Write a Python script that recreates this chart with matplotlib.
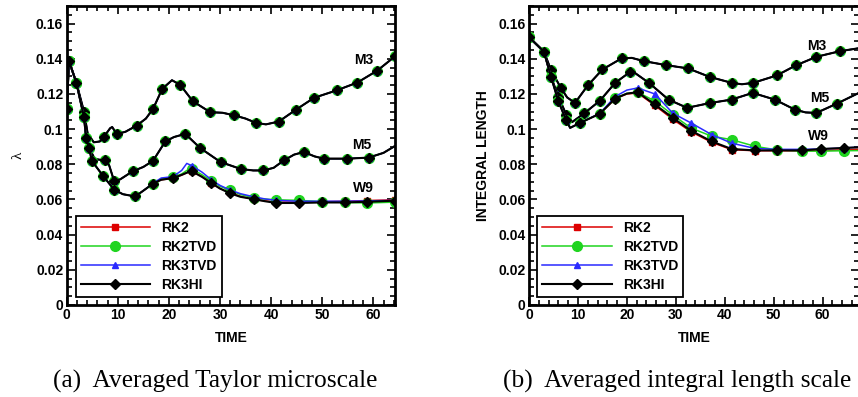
import matplotlib
matplotlib.use("Agg")
import matplotlib.pyplot as plt
from matplotlib.ticker import MultipleLocator, FuncFormatter

# ---------------- data: (a) averaged Taylor microscale ----------------
ta_m3 = [0, 0.45, 1.9, 3.4, 4.1, 5.3, 6.5, 7.3, 8.5, 8.9, 9.8, 11.5, 13.7, 15.5, 16.9, 18.7,
         20.6, 22.2, 24.7, 28.1, 30.5, 32.7, 35.0, 37.1, 39.0, 41.5, 44.9, 48.4, 52.9, 56.9, 60.8, 64.3]
lam_m3 = [0.1117, 0.1387, 0.1263, 0.1098, 0.0975, 0.0925, 0.0930, 0.0957, 0.1005, 0.1012, 0.0972,
          0.0985, 0.1020, 0.1060, 0.1115, 0.1229, 0.1278, 0.1252, 0.1158, 0.1096, 0.1093, 0.1079,
          0.1060, 0.1035, 0.1027, 0.1043, 0.1111, 0.1178, 0.1221, 0.1265, 0.1333, 0.1415]
ta_m3_marks = [0, 1, 2, 3, 7, 10, 12, 14, 15, 17, 18, 19, 21, 23, 25, 26, 27, 28, 29, 30, 31]

ta_m5 = [0, 0.45, 1.9, 3.4, 3.8, 4.4, 5.5, 7.4, 8.3, 9.3, 10.5, 12.9, 15.0, 16.9, 19.3, 21.0,
         23.2, 26.1, 30.1, 34.1, 36.5, 38.5, 40.5, 42.5, 44.5, 46.4, 48.5, 50.3, 54.9, 59.1, 62.0, 64.3]
lam_m5 = [0.1117, 0.1387, 0.1263, 0.1067, 0.0950, 0.0893, 0.0830, 0.0822, 0.0795, 0.0703, 0.0715,
          0.0760, 0.0785, 0.0820, 0.0930, 0.0955, 0.0973, 0.0893, 0.0813, 0.0773, 0.0765, 0.0765,
          0.0780, 0.0822, 0.0855, 0.0870, 0.0845, 0.0832, 0.0832, 0.0838, 0.0865, 0.0905]
ta_m5_marks = [0, 1, 2, 3, 4, 5, 7, 9, 11, 13, 14, 16, 17, 18, 19, 21, 23, 25, 27, 28, 29]

ta_w9 = [0, 0.45, 1.9, 3.4, 3.8, 4.4, 4.9, 7.2, 9.3, 11.0, 13.4, 15.0, 16.9, 18.5, 20.8, 22.5,
         23.5, 24.5, 26.5, 28.3, 30.0, 31.9, 34.0, 36.6, 38.8, 41.0, 45.4, 49.9, 54.4, 58.8, 64.3]
lam_w9_rk2 = [0.1117, 0.1387, 0.1263, 0.1067, 0.0950, 0.0893, 0.0820, 0.0731, 0.0655, 0.0630,
              0.0617, 0.0650, 0.0690, 0.0712, 0.0720, 0.0738, 0.0752, 0.0762, 0.0730, 0.0695,
              0.0662, 0.0640, 0.0618, 0.0600, 0.0592, 0.0585, 0.0585, 0.0587, 0.0590, 0.0594, 0.0598]
lam_w9_rk2tvd = [0.1117, 0.1387, 0.1263, 0.1067, 0.0950, 0.0893, 0.0820, 0.0731, 0.0655, 0.0630,
                 0.0617, 0.0650, 0.0690, 0.0718, 0.0725, 0.0745, 0.0765, 0.0775, 0.0740, 0.0705,
                 0.0675, 0.0652, 0.0628, 0.0610, 0.0602, 0.0598, 0.0595, 0.0588, 0.0583, 0.0580, 0.0585]
lam_w9_rk3tvd = [0.1117, 0.1387, 0.1263, 0.1067, 0.0950, 0.0893, 0.0820, 0.0731, 0.0655, 0.0630,
                 0.0617, 0.0650, 0.0692, 0.0722, 0.0730, 0.0765, 0.0805, 0.0792, 0.0755, 0.0712,
                 0.0680, 0.0655, 0.0633, 0.0615, 0.0603, 0.0595, 0.0590, 0.0590, 0.0590, 0.0592, 0.0595]
lam_w9_rk3hi = [0.1117, 0.1387, 0.1263, 0.1067, 0.0950, 0.0893, 0.0820, 0.0731, 0.0655, 0.0630,
                0.0617, 0.0650, 0.0690, 0.0712, 0.0722, 0.0740, 0.0752, 0.0760, 0.0728, 0.0693,
                0.0662, 0.0636, 0.0615, 0.0602, 0.0590, 0.0580, 0.0580, 0.0583, 0.0583, 0.0587, 0.0593]
ta_w9_marks = [0, 1, 2, 3, 4, 5, 6, 7, 8, 10, 12, 14, 17, 19, 21, 23, 25, 26, 27, 28, 29, 30]

# ---------------- data: (b) averaged integral length scale ----------------
tb_m3 = [0, 3.06, 4.5, 6.5, 7.8, 9.4, 12.0, 15.0, 18.9, 21.0, 23.4, 28.0, 32.5, 36.9, 41.4, 43.5,
         45.8, 50.6, 54.5, 58.7, 63.5, 67.4]
len_m3 = [0.1523, 0.1440, 0.1335, 0.1235, 0.1180, 0.1149, 0.1248, 0.1339, 0.1402, 0.1405, 0.1387,
          0.1364, 0.1345, 0.1297, 0.1263, 0.1255, 0.1263, 0.1305, 0.1362, 0.1411, 0.1443, 0.1460]
tb_m3_marks = [0, 1, 2, 3, 5, 6, 7, 8, 10, 11, 12, 13, 14, 16, 17, 18, 19, 20]

tb_m5 = [0, 3.06, 4.5, 6.0, 7.6, 8.8, 11.3, 14.5, 17.6, 20.6, 21.5, 24.5, 28.5, 32.3, 36.9, 41.4,
         45.7, 50.2, 54.3, 56.5, 58.7, 62.9, 67.4]
len_m5 = [0.1523, 0.1440, 0.1297, 0.1185, 0.1083, 0.1040, 0.1090, 0.1162, 0.1263, 0.1324, 0.1322,
          0.1263, 0.1168, 0.1121, 0.1148, 0.1168, 0.1206, 0.1168, 0.1111, 0.1095, 0.1092, 0.1145, 0.1206]
tb_m5_marks = [0, 1, 2, 3, 4, 6, 7, 8, 9, 11, 12, 13, 14, 15, 16, 17, 18, 20, 21]

tb_w9 = [0, 3.06, 4.5, 6.0, 7.55, 8.4, 10.4, 14.5, 17.6, 20.0, 22.2, 25.7, 29.4, 33.1, 37.3,
         41.4, 46.2, 50.6, 55.8, 59.7, 64.4, 67.4]
len_w9_rk2 = [0.1523, 0.1440, 0.1297, 0.1158, 0.1054, 0.1007, 0.1035, 0.1088, 0.1172, 0.1200,
              0.1205, 0.1135, 0.1055, 0.0985, 0.0925, 0.0883, 0.0877, 0.0877, 0.0877, 0.0878,
              0.0882, 0.0886]
len_w9_rk2tvd = [0.1523, 0.1440, 0.1297, 0.1158, 0.1054, 0.1007, 0.1035, 0.1088, 0.1176, 0.1203,
                 0.1210, 0.1160, 0.1080, 0.1006, 0.0960, 0.0940, 0.0902, 0.0882, 0.0875, 0.0875,
                 0.0877, 0.0878]
len_w9_rk3tvd = [0.1523, 0.1440, 0.1297, 0.1158, 0.1054, 0.1007, 0.1035, 0.1090, 0.1185, 0.1222,
                 0.1234, 0.1200, 0.1090, 0.1035, 0.0969, 0.0920, 0.0890, 0.0885, 0.0885, 0.0887,
                 0.0893, 0.0897]
len_w9_rk3hi = [0.1523, 0.1440, 0.1297, 0.1158, 0.1054, 0.1007, 0.1035, 0.1088, 0.1174, 0.1202,
                0.1210, 0.1140, 0.1064, 0.0991, 0.0930, 0.0887, 0.0879, 0.0879, 0.0879, 0.0887,
                0.0893, 0.0897]
tb_w9_marks = [0, 1, 2, 3, 4, 6, 7, 8, 10, 11, 12, 13, 14, 15, 16, 17, 18, 19, 20]

schemes = ["RK2", "RK2TVD", "RK3TVD", "RK3HI"]
case_labels = ["M3", "M5", "W9"]

# ---------------- style ----------------
colors = ["#dd0000", "#1fd41f", "#2a2aff", "black"]
mstyles = [dict(marker="s", ms=4.6), dict(marker="o", ms=7.0),
           dict(marker="^", ms=4.6), dict(marker="D", ms=5.2)]
lws = [1.1, 1.1, 1.1, 1.5]

BOLD = dict(family="Liberation Sans", weight="bold")

fig = plt.figure(figsize=(8.58, 3.97), dpi=100)
H = 397.0
W = 858.0


def make_axes(x0, x1, xmax, ylabel, ylabel_kw):
    ax = fig.add_axes([x0 / W, (H - 305) / H, (x1 - x0) / W, (305 - 6) / H])
    ax.set_xlim(0, xmax)
    ax.set_ylim(0, 0.17)
    ax.xaxis.set_major_locator(MultipleLocator(10))
    ax.xaxis.set_minor_locator(MultipleLocator(2))
    ax.yaxis.set_major_locator(MultipleLocator(0.02))
    ax.yaxis.set_minor_locator(MultipleLocator(0.005))
    ax.yaxis.set_major_formatter(FuncFormatter(lambda v, p: "0" if abs(v) < 1e-9 else ("%.2f" % v).rstrip("0")))
    ax.xaxis.set_major_formatter(FuncFormatter(lambda v, p: "%d" % round(v)))
    ax.tick_params(which="both", direction="in", top=True, right=True, width=1.2, color="black")
    ax.tick_params(which="major", length=6, labelsize=10, pad=2.5)
    ax.tick_params(which="minor", length=3.5)
    for lab in ax.get_xticklabels() + ax.get_yticklabels():
        lab.set_fontfamily("Liberation Sans")
        lab.set_fontweight("bold")
    for s in ax.spines.values():
        s.set_linewidth(2.0)
    ax.set_xlabel("TIME", fontsize=10, labelpad=6, **BOLD)
    ax.set_ylabel(ylabel, **ylabel_kw)
    return ax


axa = make_axes(66.7, 395, 64.25, "\u03bb",
                dict(fontsize=11, family="Liberation Serif", labelpad=8))
axb = make_axes(529, 859, (859 - 529) / 4.895, "INTEGRAL LENGTH",
                dict(fontsize=10, labelpad=6, **BOLD))


def draw(ax, t, series, marks):
    for k in range(4):
        ax.plot(t, series[k], color=colors[k], lw=lws[k], markevery=marks,
                mfc=colors[k], mec=colors[k], label=schemes[k], **mstyles[k])


draw(axa, ta_m3, [lam_m3] * 4, ta_m3_marks)
draw(axa, ta_m5, [lam_m5] * 4, ta_m5_marks)
draw(axa, ta_w9, [lam_w9_rk2, lam_w9_rk2tvd, lam_w9_rk3tvd, lam_w9_rk3hi], ta_w9_marks)

draw(axb, tb_m3, [len_m3] * 4, tb_m3_marks)
draw(axb, tb_m5, [len_m5] * 4, tb_m5_marks)
draw(axb, tb_w9, [len_w9_rk2, len_w9_rk2tvd, len_w9_rk3tvd, len_w9_rk3hi], tb_w9_marks)

# case labels
for ax, pos in [(axa, [(58.2, 0.1392), (57.7, 0.0912), (58.0, 0.0665)]),
                (axb, [(58.8, 0.1472), (59.3, 0.1178), (59.1, 0.0959)])]:
    for lab, (x, y) in zip(case_labels, pos):
        ax.text(x, y, lab, ha="center", va="center", fontsize=10, **BOLD)

# legends
for ax, x0 in [(axa, 0.028), (axb, 0.025)]:
    h, l = ax.get_legend_handles_labels()
    leg = ax.legend(h[:4], l[:4], loc="lower left", bbox_to_anchor=(x0, 0.028),
                    borderaxespad=0, frameon=True, fancybox=False, framealpha=1,
                    edgecolor="black", handlelength=5.0, handletextpad=0.8,
                    labelspacing=0.35, borderpad=0.35, numpoints=1,
                    prop=dict(family="Liberation Sans", weight="bold", size=10))
    leg.get_frame().set_linewidth(1.3)
    for lh in leg.legend_handles:
        lh.set_markevery([1])

# captions
fig.text(53 / W, 1 - 381 / H, "(a)  Averaged Taylor microscale", ha="left", va="center",
         fontsize=18.3, family="Liberation Serif")
fig.text(503 / W, 1 - 381 / H, "(b)  Averaged integral length scale", ha="left", va="center",
         fontsize=18.3, family="Liberation Serif")

fig.savefig("out.png", dpi=100)
